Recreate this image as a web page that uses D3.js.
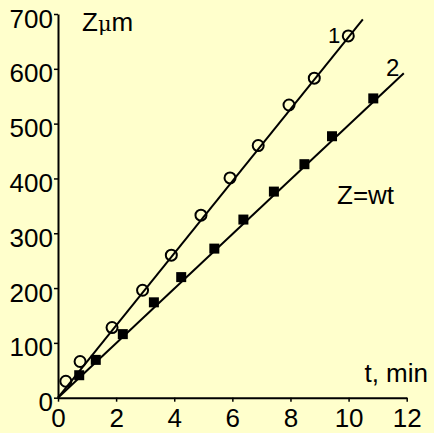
<!DOCTYPE html>
<html>
<head>
<meta charset="utf-8">
<script src="https://cdn.jsdelivr.net/npm/d3@7"></script>
<style>
  html, body { margin: 0; padding: 0; background: #FFFFCC; }
  svg { display: block; }
  text { font-family: "Liberation Sans", Arial, sans-serif; fill: #000; }
</style>
</head>
<body>
<svg id="chart" width="434" height="433"></svg>
<script>
// Series 1 (open circles)
const t1 = [0.27, 0.76, 1.86, 2.91, 3.9, 4.92, 5.92, 6.89, 7.95, 8.82, 9.99];
const z1 = [30, 66, 128, 196, 260, 333, 401, 460, 534, 583, 660];
// Series 2 (filled squares)
const t2 = [0.73, 1.3, 2.23, 3.3, 4.24, 5.38, 6.38, 7.43, 8.48, 9.43, 10.85];
const z2 = [41, 69, 116, 174, 220, 272, 325, 376, 426, 477, 546];
// Fitted straight lines Z = wt
const fit1 = [[0, 0], [10.49, 690]];
const fit2 = [[0, 0], [11.9, 592]];

const xTicks = [0, 2, 4, 6, 8, 10, 12];
const yTicks = [0, 100, 200, 300, 400, 500, 600, 700];

const svg = d3.select("#chart");

const x = d3.scaleLinear().domain([0, 12]).range([58, 406.7]);
const y = d3.scaleLinear().domain([0, 700]).range([397.7, 14]);

// Axes
const xAxis = svg.append("g")
    .attr("transform", `translate(0,${y(0)})`)
    .call(d3.axisBottom(x).tickValues(xTicks).tickSize(4).tickSizeOuter(0).tickPadding(8));
const yAxis = svg.append("g")
    .attr("transform", `translate(${x(0)},0)`)
    .call(d3.axisLeft(y).tickValues(yTicks).tickSize(4).tickSizeOuter(0).tickPadding(1));

[xAxis, yAxis].forEach(a => {
    a.select(".domain").attr("stroke", "#000").attr("stroke-width", 2);
    a.selectAll(".tick line").attr("stroke", "#000").attr("stroke-width", 1.5);
    a.selectAll(".tick text")
        .attr("font-family", "Liberation Sans, Arial, sans-serif")
        .attr("font-size", 26)
        .attr("fill", "#000");
});
yAxis.selectAll(".tick text").attr("dy", "0.5em");
xAxis.selectAll(".tick text").attr("dy", "0.68em");

// Fit lines
const line = d3.line().x(d => x(d[0])).y(d => y(d[1]));
[fit1, fit2].forEach(f => {
    svg.append("path")
        .attr("d", line(f))
        .attr("fill", "none")
        .attr("stroke", "#000")
        .attr("stroke-width", 2);
});

// Markers
svg.append("g").selectAll("circle")
    .data(t1.map((t, i) => [t, z1[i]]))
    .join("circle")
    .attr("cx", d => x(d[0]))
    .attr("cy", d => y(d[1]))
    .attr("r", 5.5)
    .attr("fill", "none")
    .attr("stroke", "#000")
    .attr("stroke-width", 2);

const sq = 10;
svg.append("g").selectAll("rect")
    .data(t2.map((t, i) => [t, z2[i]]))
    .join("rect")
    .attr("x", d => x(d[0]) - sq / 2)
    .attr("y", d => y(d[1]) - sq / 2)
    .attr("width", sq)
    .attr("height", sq)
    .attr("fill", "#000");

// Labels
const zl = svg.append("text").attr("x", 82).attr("y", 31).attr("font-size", 26);
zl.append("tspan").text("Z");
zl.append("tspan").text("μ").attr("font-family", "DejaVu Serif, serif").attr("font-size", 21);
zl.append("tspan").text("m");

svg.append("text").attr("x", 428).attr("y", 382).attr("text-anchor", "end")
    .attr("font-size", 26).text("t, min");
svg.append("text").attr("x", 337).attr("y", 204).attr("font-size", 26).text("Z=wt");
svg.append("text").attr("x", 328).attr("y", 43).attr("font-size", 22).text("1");
svg.append("text").attr("x", 386).attr("y", 76).attr("font-size", 24).text("2");
</script>
</body>
</html>
